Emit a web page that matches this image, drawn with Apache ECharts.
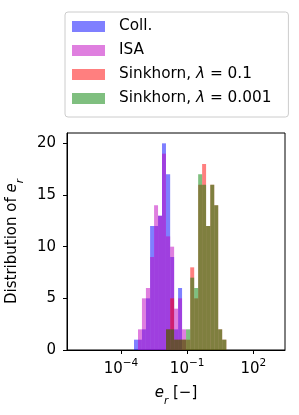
<!DOCTYPE html>
<html>
<head>
<meta charset="utf-8">
<script src="https://cdn.jsdelivr.net/npm/echarts@6/dist/echarts.min.js"></script>
<style>
html,body{margin:0;padding:0;background:#fff;}
#c{width:299px;height:415px;}
</style>
</head>
<body>
<div id="c"></div>
<script>
// log10(e_r) bin edges shared by all histograms
const binEdges = [-3.41, -3.23, -3.05, -2.87, -2.68, -2.50, -2.32, -2.14, -1.96, -1.77, -1.59, -1.41,
                  -1.23, -1.05, -0.86, -0.68, -0.50, -0.32, -0.14, 0.05, 0.23, 0.41, 0.59, 0.78];
const countsColl   = [1, 1, 2, 5, 12, 12, 13, 20, 17, 9, 2, 6, 0, 0, 0, 0, 0, 0, 0, 0, 0, 0, 0];
const countsISA    = [0, 2, 5, 6, 9, 14, 13, 19, 11, 10, 4, 5, 2, 0, 0, 0, 0, 0, 0, 0, 0, 0, 0];
const countsSk01   = [0, 0, 0, 0, 0, 0, 0, 0, 2, 5, 1, 1, 1, 1, 8, 5, 16, 18, 12, 16, 14, 2, 1];
const countsSk0001 = [0, 0, 0, 0, 0, 0, 0, 0, 2, 2, 1, 1, 1, 2, 7, 6, 17, 16, 12, 16, 14, 2, 1];
const seriesNames = ['Coll.', 'ISA', 'Sinkhorn, λ = 0.1', 'Sinkhorn, λ = 0.001'];
const xTickValues = [-4, -1, 2];
const xTickLabels = ['{b|10}{s|−4}', '{b|10}{s|−1}', '{b|10}{s|2}'];
const yTickValues = [0, 5, 10, 15, 20];

const colors = ['rgba(0,0,255,0.5)', 'rgba(191,0,191,0.5)', 'rgba(255,0,0,0.5)', 'rgba(0,128,0,0.5)'];
const allCounts = [countsColl, countsISA, countsSk01, countsSk0001];

function toData(counts) {
  return counts.map((c, i) => [binEdges[i], binEdges[i + 1], c]);
}

function renderItem(params, api) {
  const h = api.value(2);
  if (!h) return null;
  const p0 = api.coord([api.value(0), 0]);
  const p1 = api.coord([api.value(1), h]);
  return {
    type: 'rect',
    shape: { x: p0[0], y: p1[1], width: p1[0] - p0[0], height: p0[1] - p1[1] },
    style: { fill: api.visual('color') }
  };
}

const FONT = 'DejaVu Sans';
const FS = 15;
const LFS = 15.3;
const chart = echarts.init(document.getElementById('c'), null, { renderer: 'canvas' });

const legendRich = {
  t: { fontFamily: FONT, fontSize: LFS, color: '#000' },
  l: { fontFamily: FONT, fontSize: LFS, fontStyle: 'italic', color: '#000' }
};

chart.setOption({
  animation: false,
  textStyle: { fontFamily: FONT },
  legend: {
    orient: 'vertical',
    left: 65, top: 12,
    padding: [6, 17, 10, 7],
    itemWidth: 42, itemHeight: 11, itemGap: 7,
    symbolKeepAspect: false,
    borderColor: '#cccccc', borderWidth: 1, borderRadius: 3,
    icon: 'path://M0,0H33V11H0Z M42,11L42,11',
    data: seriesNames,
    formatter: function (name) {
      if (name.indexOf('λ') >= 0) {
        const parts = name.split('λ');
        return '{t|' + parts[0] + '}{l|λ}{t|' + parts[1] + '}';
      }
      return '{t|' + name + '}';
    },
    textStyle: { fontFamily: FONT, fontSize: LFS, color: '#000', lineHeight: 17, rich: legendRich }
  },
  grid: { left: 67, right: 14, top: 133, bottom: 65, show: true, borderColor: '#000', borderWidth: 1,
          backgroundColor: 'transparent', containLabel: false, outerBoundsMode: 'none' },
  xAxis: {
    type: 'value', min: -6.45, max: 3.44,
    axisLine: { show: true, onZero: false, lineStyle: { color: '#000', width: 1 } },
    axisTick: { show: true, customValues: xTickValues, length: 4, lineStyle: { color: '#000' } },
    splitLine: { show: false },
    axisLabel: {
      customValues: xTickValues,
      margin: 8,
      formatter: function (v) { const i = xTickValues.indexOf(v); return i >= 0 ? xTickLabels[i] : ''; },
      rich: {
        b: { fontFamily: FONT, fontSize: FS, color: '#000', lineHeight: 19, verticalAlign: 'bottom' },
        s: { fontFamily: FONT, fontSize: 10.5, color: '#000', lineHeight: 11, verticalAlign: 'top' }
      }
    },
    name: '{e|e}{r|r}{n| [−]}',
    nameLocation: 'middle', nameGap: 36,
    nameTextStyle: {
      rich: {
        e: { fontFamily: FONT, fontSize: FS, fontStyle: 'italic', color: '#000', lineHeight: 21, verticalAlign: 'top' },
        r: { fontFamily: FONT, fontSize: 10.5, fontStyle: 'italic', color: '#000', lineHeight: 11, verticalAlign: 'bottom' },
        n: { fontFamily: FONT, fontSize: FS, color: '#000', lineHeight: 21, verticalAlign: 'top' }
      }
    }
  },
  yAxis: {
    type: 'value', min: 0, max: 21,
    axisLine: { show: true, onZero: false, lineStyle: { color: '#000', width: 1 } },
    axisTick: { show: true, customValues: yTickValues, length: 4, lineStyle: { color: '#000' } },
    splitLine: { show: false },
    axisLabel: { customValues: yTickValues, margin: 11, fontFamily: FONT, fontSize: FS, color: '#000' },
    name: '{a|Distribution of }{e|e}{r|r}',
    nameLocation: 'middle', nameGap: 28,
    nameTextStyle: {
      rich: {
        a: { fontFamily: FONT, fontSize: FS, color: '#000', lineHeight: 21, verticalAlign: 'top' },
        e: { fontFamily: FONT, fontSize: FS, fontStyle: 'italic', color: '#000', lineHeight: 21, verticalAlign: 'top' },
        r: { fontFamily: FONT, fontSize: 10.5, fontStyle: 'italic', color: '#000', lineHeight: 11, verticalAlign: 'bottom' }
      }
    }
  },
  series: allCounts.map((counts, k) => ({
    type: 'custom',
    name: seriesNames[k],
    renderItem: renderItem,
    itemStyle: { color: colors[k] },
    encode: { x: [0, 1], y: 2 },
    data: toData(counts),
    clip: true
  }))
});
</script>
</body>
</html>
